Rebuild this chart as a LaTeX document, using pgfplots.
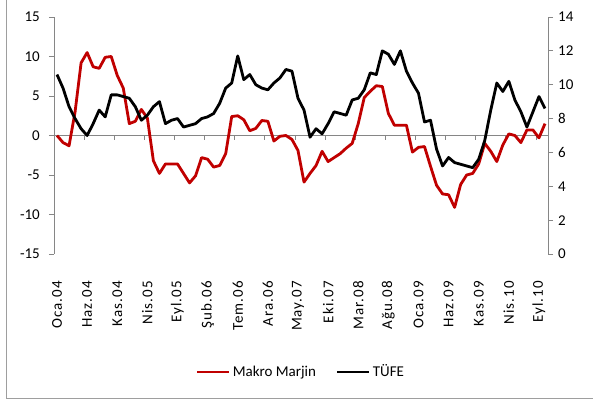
\documentclass[border=0pt]{standalone}
\usepackage{fontspec}
\setmainfont{Carlito}
\newfontfamily\tickfont[LetterSpace=7]{Carlito}
\usepackage{pgfplots}
\pgfplotsset{compat=1.18}
\usepackage{pgfplotstable}
\definecolor{mmred}{HTML}{C00000}
\definecolor{axgray}{HTML}{868686}

% month index (0 = Oca.04), Makro Marjin (left axis), TUFE (right axis)
\pgfplotstableread{
i mm tufe
0 0.0 10.6
1 -0.9 9.8
2 -1.3 8.7
3 3.0 8.0
4 9.2 7.4
5 10.5 7.0
6 8.7 7.7
7 8.5 8.5
8 9.9 8.1
9 10.0 9.4
10 7.6 9.4
11 6.0 9.3
12 1.5 9.2
13 1.8 8.7
14 3.3 7.9
15 2.2 8.2
16 -3.2 8.7
17 -4.8 9.0
18 -3.6 7.7
19 -3.6 7.9
20 -3.6 8.0
21 -4.8 7.5
22 -6.0 7.6
23 -5.1 7.7
24 -2.8 8.0
25 -3.0 8.1
26 -4.0 8.3
27 -3.8 8.9
28 -2.3 9.8
29 2.4 10.1
30 2.5 11.7
31 2.0 10.3
32 0.6 10.6
33 0.9 10.0
34 1.9 9.8
35 1.8 9.7
36 -0.7 10.1
37 -0.1 10.4
38 0.0 10.9
39 -0.5 10.8
40 -1.9 9.2
41 -5.9 8.5
42 -4.8 6.9
43 -3.8 7.4
44 -2.0 7.1
45 -3.3 7.7
46 -2.8 8.4
47 -2.3 8.3
48 -1.6 8.2
49 -1.0 9.1
50 1.5 9.2
51 4.8 9.7
52 5.6 10.7
53 6.3 10.6
54 6.2 12.0
55 2.8 11.8
56 1.3 11.2
57 1.3 12.0
58 1.3 10.8
59 -2.1 10.1
60 -1.5 9.5
61 -1.4 7.8
62 -3.9 7.9
63 -6.3 6.2
64 -7.4 5.2
65 -7.5 5.7
66 -9.1 5.4
67 -6.2 5.3
68 -5.0 5.2
69 -4.8 5.1
70 -3.6 5.6
71 -1.0 6.7
72 -2.0 8.5
73 -3.3 10.1
74 -1.2 9.6
75 0.2 10.2
76 0.0 9.1
77 -0.9 8.4
78 0.7 7.5
79 0.7 8.4
80 -0.3 9.3
81 1.5 8.6
}\data

\pgfplotsset{
  common/.style={
    scale only axis, width=494bp, height=237bp,
    at={(54bp,151bp)}, anchor=south west,
    xmin=-0.5, xmax=81.5,
    /pgf/number format/assume math mode=true,
    tick align=outside, major tick length=5bp,
    every tick/.style={axgray, line width=0.8bp},
    axis line style={axgray, line width=0.8bp},
  },
}

\begin{document}
\fontsize{15bp}{18bp}\selectfont
\begin{tikzpicture}
\path[use as bounding box] (0,0) rectangle (593bp,405bp);
\draw[axgray!80, line width=1bp] (6bp,405bp) -- (6bp,6bp) -- (593bp,6bp);
\begin{axis}[common,
  axis y line*=left, axis x line*=bottom,
  x axis line style={draw=none},
  ymin=-15, ymax=15, ytick={-15,-10,...,15},
  yticklabel style={xshift=-4bp},
  xtick={0,5,...,80},
  xticklabels={Oca.04,Haz.04,Kas.04,Nis.05,Eyl.05,Şub.06,Tem.06,Ara.06,May.07,Eki.07,Mar.08,Ağu.08,Oca.09,Haz.09,Kas.09,Nis.10,Eyl.10},
  xtick style={draw=none},
  xticklabel style={rotate=90, anchor=east, font=\tickfont},
  xticklabel shift=17bp,
  legend style={at={(0.5,-0.498)}, anchor=center, draw=none, fill=none,
    legend columns=2, /tikz/every even column/.append style={column sep=18bp}},
  legend image code/.code={\draw[#1] (0bp,0bp) -- (32bp,0bp);},
]
\draw[axgray, line width=0.8bp] (axis cs:-0.5,0) -- (axis cs:81.5,0);
\foreach \k in {4.5,9.5,...,79.5} {
  \edef\tmp{\noexpand\draw[axgray, line width=0.8bp] (axis cs:\k,0) -- ([yshift=-5bp]axis cs:\k,0);}\tmp
}
\addplot[mmred, line width=2.8bp, line join=round] table[x=i,y=mm]{\data};
\addlegendentry{Makro Marjin}
\addlegendimage{black, line width=2.8bp}
\addlegendentry{TÜFE}
\end{axis}
\begin{axis}[common,
  axis y line*=right, axis x line=none,
  ymin=0, ymax=14, ytick={0,2,...,14},
]
\addplot[black, line width=2.8bp, line join=round] table[x=i,y=tufe]{\data};
\end{axis}
\end{tikzpicture}
\end{document}
